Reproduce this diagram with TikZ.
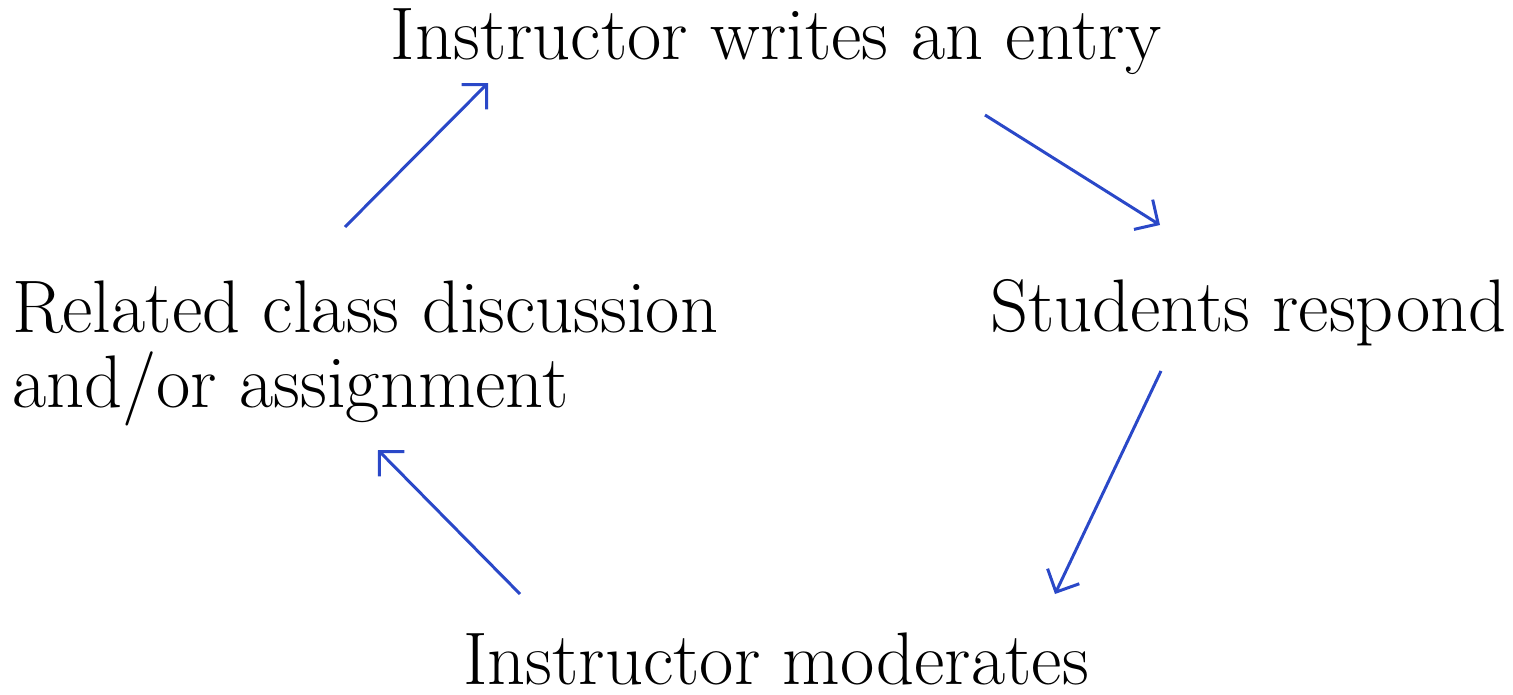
\documentclass[tikz,border=0pt]{standalone}
\usetikzlibrary{arrows.meta}
\definecolor{arrowblue}{HTML}{2A48C8}
\tikzset{
  lbl/.style={inner sep=0pt, outer sep=0pt, font=\fontsize{21.2}{21.2}\selectfont, align=left},
  flow/.style={draw=arrowblue, line width=0.85pt, -{Straight Barb[length=5pt,width=10pt]}}
}
\begin{document}
\begin{tikzpicture}[x=0.1mm,y=-0.1mm]
\useasboundingbox (0,0) rectangle (1513,695);
\node[lbl, anchor=base] (top) at (776,60) {Instructor writes an entry};
\node[lbl, anchor=base west] (right) at (990,332) {Students respond};
\node[lbl, anchor=base west] (left) at (12,407) {Related class discussion\\and/or assignment};
\node[lbl, anchor=base] (bottom) at (776,684) {Instructor moderates};
\coordinate (a1s) at (345,227); \coordinate (a1e) at (488,83);
\coordinate (a2s) at (985,115); \coordinate (a2e) at (1160,225);
\coordinate (a3s) at (1161,371); \coordinate (a3e) at (1055,594);
\coordinate (a4s) at (520,594); \coordinate (a4e) at (378,450);
\draw[flow] (a1s) -- (a1e);
\draw[flow] (a2s) -- (a2e);
\draw[flow] (a3s) -- (a3e);
\draw[flow] (a4s) -- (a4e);
\end{tikzpicture}
\end{document}
